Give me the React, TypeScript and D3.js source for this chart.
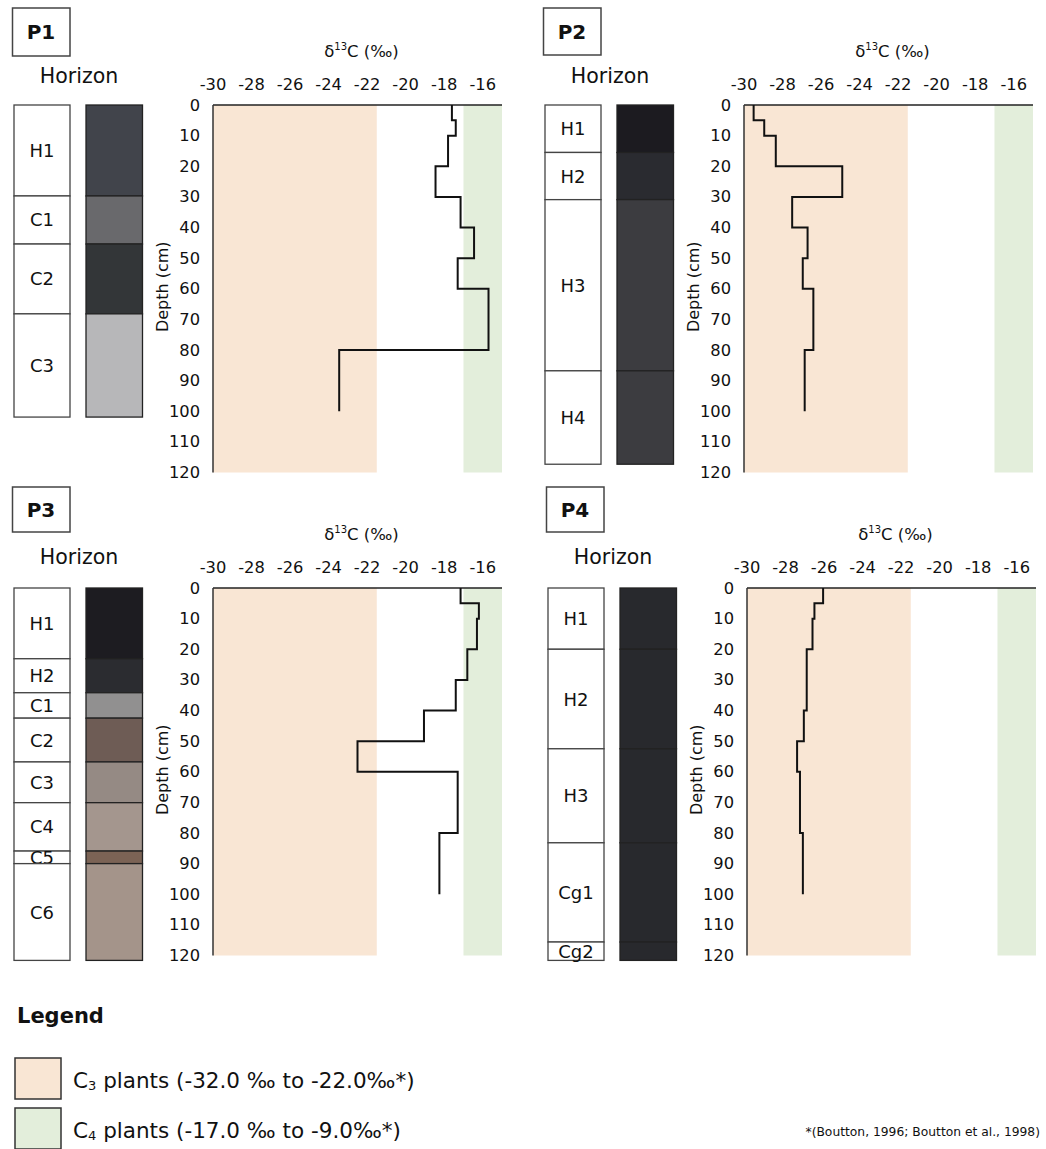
import React from "react";
import * as d3 from "d3";

// depth intervals (cm) of the d13C measurements
const depthTop = [0, 5, 10, 20, 30, 40, 50, 60, 80];
const depthBottom = [5, 10, 20, 30, 40, 50, 60, 80, 100];

// d13C values per profile
const p1Values = [-17.6, -17.4, -17.8, -18.45, -17.15, -16.45, -17.3, -15.7, -23.45];
const p2Values = [-29.5, -28.95, -28.35, -24.9, -27.5, -26.7, -26.95, -26.4, -26.85];
const p3Values = [-17.15, -16.2, -16.3, -16.8, -17.4, -19.05, -22.5, -17.3, -18.25];
const p4Values = [-26.05, -26.5, -26.6, -26.9, -26.9, -27.05, -27.4, -27.25, -27.1];

// horizons: names, boundaries (cm), soil colours
const p1Horizons = ["H1", "C1", "C2", "C3"];
const p1Bounds = [0, 29.7, 45.4, 68.2, 101.9];
const p1Colors = ["#41444b", "#69696c", "#333638", "#b7b7b9"];

const p2Horizons = ["H1", "H2", "H3", "H4"];
const p2Bounds = [0, 15.5, 30.9, 86.8, 117.3];
const p2Colors = ["#1c1b20", "#2a2b30", "#3c3c40", "#3c3c40"];

const p3Horizons = ["H1", "H2", "C1", "C2", "C3", "C4", "C5", "C6"];
const p3Bounds = [0, 23.1, 34.2, 42.5, 56.8, 70.1, 85.9, 90.0, 121.6];
const p3Colors = ["#1d1c21", "#2b2c30", "#919090", "#6e5c55", "#958a84", "#a4968e", "#7b6355", "#a4948a"];

const p4Horizons = ["H1", "H2", "H3", "Cg1", "Cg2"];
const p4Bounds = [0, 20.0, 52.5, 83.2, 115.6, 121.6];
const p4Colors = ["#28292d", "#28292d", "#28292d", "#28292d", "#28292d"];

// axes
const xDomain = [-30, -15];
const xTicks = [-30, -28, -26, -24, -22, -20, -18, -16];
const yTicks = [0, 10, 20, 30, 40, 50, 60, 70, 80, 90, 100, 110, 120];
const c3Band = [-30, -21.5];
const c4Band = [-17, -15];

const profiles = [
  { name: "P1", values: p1Values, horizons: p1Horizons, bounds: p1Bounds, colors: p1Colors },
  { name: "P2", values: p2Values, horizons: p2Horizons, bounds: p2Bounds, colors: p2Colors },
  { name: "P3", values: p3Values, horizons: p3Horizons, bounds: p3Bounds, colors: p3Colors },
  { name: "P4", values: p4Values, horizons: p4Horizons, bounds: p4Bounds, colors: p4Colors },
];

// panel placement on the page
const layout = [
  { dx: 0, dy: 0, boxTop: 8, boxBottom: 56, horizonY: 76 },
  { dx: 531, dy: 0, boxTop: 8, boxBottom: 55, horizonY: 76 },
  { dx: 0, dy: 483, boxTop: 4, boxBottom: 49, horizonY: 74 },
  { dx: 534, dy: 483, boxTop: 4, boxBottom: 49, horizonY: 74 },
];

const FONT = "DejaVu Sans";
const C3_FILL = "#f9e6d4";
const C4_FILL = "#e3eedb";

function Panel({ p, l }: any) {
  const x = d3.scaleLinear().domain(xDomain).range([213, 502]);
  const y = d3.scaleLinear().domain([0, 120]).range([105, 472.5]);

  const pts: [number, number][] = [];
  p.values.forEach((v: number, i: number) => {
    pts.push([v, depthTop[i]]);
    pts.push([v, depthBottom[i]]);
  });
  const line = d3.line<[number, number]>().x(d => x(d[0])).y(d => y(d[1]));

  return (
    <g transform={`translate(${l.dx},${l.dy})`} fontFamily={FONT} fill="#111">
      <rect x={12.5} y={l.boxTop} width={57.5} height={l.boxBottom - l.boxTop} fill="white" stroke="#444" strokeWidth={1.5} />
      <text x={41} y={(l.boxTop + l.boxBottom) / 2} textAnchor="middle" dominantBaseline="central" fontSize={20} fontWeight="bold">{p.name}</text>
      <text x={79} y={l.horizonY} textAnchor="middle" dominantBaseline="central" fontSize={20.5}>Horizon</text>

      {p.horizons.map((h: string, i: number) => (
        <g key={h + i}>
          <rect x={14} y={y(p.bounds[i])} width={56} height={y(p.bounds[i + 1]) - y(p.bounds[i])} fill="white" stroke="#444" strokeWidth={1.3} />
          <text x={42} y={(y(p.bounds[i]) + y(p.bounds[i + 1])) / 2} textAnchor="middle" dominantBaseline="central" fontSize={18}>{h}</text>
          <rect x={86} y={y(p.bounds[i])} width={56.5} height={y(p.bounds[i + 1]) - y(p.bounds[i])} fill={p.colors[i]} stroke="#222" strokeWidth={1.3} />
        </g>
      ))}

      <rect x={x(c3Band[0])} y={y(0)} width={x(c3Band[1]) - x(c3Band[0])} height={y(120) - y(0)} fill={C3_FILL} />
      <rect x={x(c4Band[0])} y={y(0)} width={x(c4Band[1]) - x(c4Band[0])} height={y(120) - y(0)} fill={C4_FILL} />
      <line x1={x(xDomain[0])} x2={x(xDomain[1])} y1={y(0)} y2={y(0)} stroke="#222" strokeWidth={1.5} />
      <line x1={x(xDomain[0])} x2={x(xDomain[0])} y1={y(0)} y2={y(120)} stroke="#333" strokeWidth={1.5} />

      {xTicks.map(t => (
        <text key={t} x={x(t)} y={y(0) - 21} textAnchor="middle" dominantBaseline="central" fontSize={16.3}>{t}</text>
      ))}
      {yTicks.map(t => (
        <text key={t} x={x(xDomain[0]) - 13} y={y(t)} textAnchor="end" dominantBaseline="central" fontSize={16.3}>{t}</text>
      ))}
      <text x={(x(xDomain[0]) + x(xDomain[1])) / 2 + 4} y={y(0) - 48} textAnchor="middle" fontSize={16.5}>
        δ<tspan fontSize={10} dy={-7}>13</tspan><tspan dy={7}>C (‰)</tspan>
      </text>
      <text transform={`translate(162,${(y(0) + y(120)) / 2 - 2}) rotate(-90)`} textAnchor="middle" dominantBaseline="central" fontSize={16}>Depth (cm)</text>

      <path d={line(pts) || ""} fill="none" stroke="#111" strokeWidth={2} />
    </g>
  );
}

export default function App() {
  return (
    <svg width={1046} height={1149} style={{ position: "absolute", left: 0, top: 0 }}>
      <rect width={1046} height={1149} fill="white" />
      {profiles.map((p, i) => <Panel key={p.name} p={p} l={layout[i]} />)}

      <g fontFamily={FONT} fill="#111">
        <text x={17} y={1016} dominantBaseline="central" fontSize={21} fontWeight="bold">Legend</text>
        <rect x={15} y={1058} width={46} height={41} fill={C3_FILL} stroke="#333" strokeWidth={1.5} />
        <text x={73} y={1080} dominantBaseline="central" fontSize={21.5}>
          C<tspan fontSize={13} dy={5}>3</tspan><tspan dy={-5}> plants (-32.0 ‰ to -22.0‰*)</tspan>
        </text>
        <rect x={15} y={1108} width={46} height={41} fill={C4_FILL} stroke="#333" strokeWidth={1.5} />
        <text x={73} y={1130} dominantBaseline="central" fontSize={21.5}>
          C<tspan fontSize={13} dy={5}>4</tspan><tspan dy={-5}> plants (-17.0 ‰ to -9.0‰*)</tspan>
        </text>
        <text x={1040} y={1132} textAnchor="end" dominantBaseline="central" fontSize={12.3}>*(Boutton, 1996; Boutton et al., 1998)</text>
      </g>
    </svg>
  );
}
